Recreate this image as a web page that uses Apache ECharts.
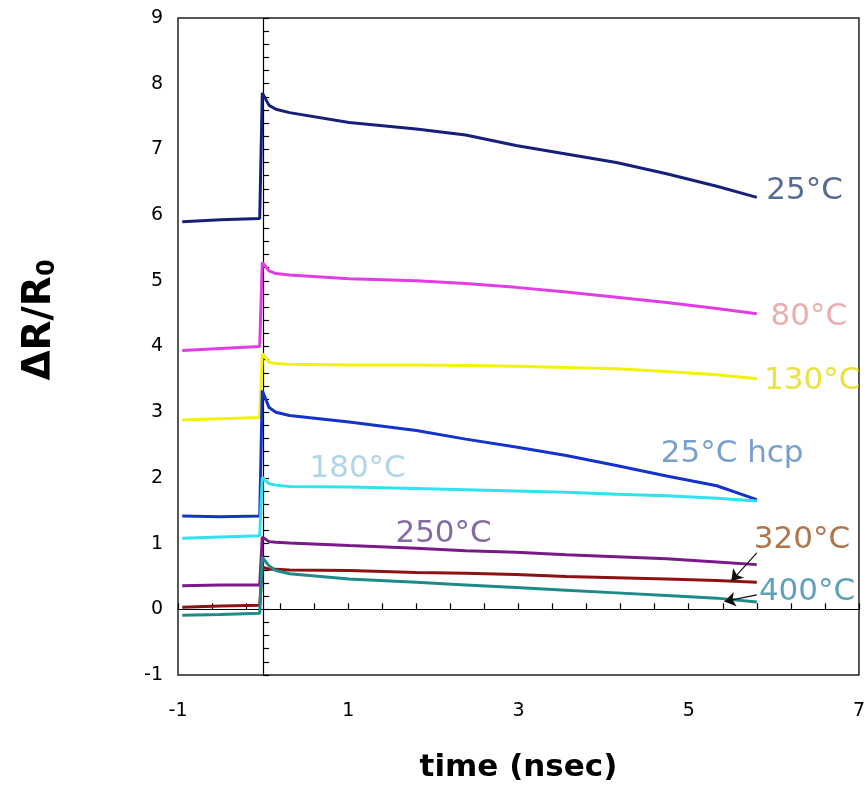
<!DOCTYPE html>
<html>
<head>
<meta charset="utf-8">
<script src="https://cdn.jsdelivr.net/npm/echarts@6/dist/echarts.min.js"></script>
<style>
  html, body { margin: 0; padding: 0; background: #fff; }
  #chart { width: 868px; height: 788px; }
</style>
</head>
<body>
<div id="chart"></div>
<script>
// Time axis (ns) shared by every trace
const time = [-0.95, -0.5, -0.04, -0.01, 0.07, 0.15, 0.31, 1.01, 1.80, 2.38, 2.97, 3.56, 4.15, 4.74, 5.33, 5.80];

// ΔR/R0 traces
const r25   = [5.90, 5.93, 5.95, 7.86, 7.67, 7.61, 7.56, 7.41, 7.31, 7.22, 7.06, 6.93, 6.80, 6.63, 6.44, 6.27];
const r80   = [3.94, 3.97, 4.00, 5.28, 5.15, 5.11, 5.09, 5.03, 5.00, 4.96, 4.90, 4.83, 4.75, 4.67, 4.58, 4.50];
const r130  = [2.88, 2.90, 2.92, 3.89, 3.76, 3.74, 3.73, 3.72, 3.72, 3.71, 3.70, 3.68, 3.66, 3.62, 3.57, 3.51];
const rHcp  = [1.42, 1.41, 1.42, 3.33, 3.07, 3.00, 2.95, 2.85, 2.72, 2.59, 2.47, 2.34, 2.19, 2.03, 1.88, 1.67];
const r180  = [1.08, 1.10, 1.12, 2.01, 1.91, 1.89, 1.87, 1.86, 1.84, 1.82, 1.80, 1.78, 1.75, 1.73, 1.69, 1.65];
const r250  = [0.36, 0.37, 0.37, 1.10, 1.03, 1.02, 1.01, 0.97, 0.93, 0.89, 0.87, 0.83, 0.80, 0.77, 0.72, 0.68];
const r320  = [0.03, 0.05, 0.06, 0.64, 0.61, 0.61, 0.60, 0.59, 0.56, 0.55, 0.53, 0.50, 0.48, 0.46, 0.44, 0.41];
const r400  = [-0.09, -0.08, -0.06, 0.79, 0.66, 0.59, 0.54, 0.46, 0.41, 0.37, 0.33, 0.29, 0.25, 0.21, 0.17, 0.11];

const traceNames = ['25°C', '80°C', '130°C', '25°C hcp', '180°C', '250°C', '320°C', '400°C'];
const traceValues = [r25, r80, r130, rHcp, r180, r250, r320, r400];
const traceColors = ['#16207a', '#e23ce4', '#f2f20c', '#1432cc', '#2fe2ee', '#7a1a88', '#8a1212', '#1f8a8a'];

// Curve labels: position in data units and text
const noteText  = ['25°C', '80°C', '130°C', '25°C hcp', '180°C', '250°C', '320°C', '400°C'];
const noteX     = [6.36, 6.41, 6.45, 5.51, 1.11, 2.12, 6.33, 6.39];
const noteY     = [6.37, 4.45, 3.47, 2.36, 2.14, 1.15, 1.05, 0.26];
const noteColors = ['#2a4676', '#e39a9a', '#e4dc0c', '#5588c6', '#9ccbe0', '#654690', '#9c521a', '#3789a6'];

// Pointer arrows from the two lowest labels to their curves
const arrows = [
  [[5.80, 0.86], [5.50, 0.43]],
  [[5.80, 0.22], [5.42, 0.12]]
];

const FONT = 'DejaVu Sans';

const lineSeries = traceNames.map((name, i) => ({
  name: name,
  type: 'line',
  xAxisIndex: 0,
  yAxisIndex: 0,
  data: time.map((t, k) => [t, traceValues[i][k]]),
  showSymbol: false,
  symbol: 'none',
  lineStyle: { color: traceColors[i], width: 3 },
  z: 3
}));

const noteSeries = {
  type: 'scatter',
  xAxisIndex: 0,
  yAxisIndex: 0,
  symbolSize: 0,
  silent: true,
  z: 5,
  data: noteText.map((txt, i) => ({
    value: [noteX[i], noteY[i]],
    label: {
      show: true,
      position: 'inside',
      formatter: txt,
      color: noteColors[i],
      fontFamily: FONT,
      fontSize: 31
    }
  })),
  markLine: {
    silent: true,
    symbol: ['none', 'arrow'],
    symbolSize: 11,
    label: { show: false },
    lineStyle: { color: '#111', width: 1.2, type: 'solid' },
    data: arrows.map(a => [{ coord: a[0] }, { coord: a[1] }])
  }
};

const chart = echarts.init(document.getElementById('chart'), null, { renderer: 'canvas' });
chart.setOption({
  animation: false,
  backgroundColor: '#fff',
  grid: {
    left: 178, right: 6, top: 18, bottom: 112,
    show: true,
    borderColor: '#222',
    borderWidth: 1.5,
    backgroundColor: 'transparent'
  },
  xAxis: [
    {
      type: 'value',
      min: -1, max: 7, interval: 1,
      position: 'bottom',
      axisLine: { show: false, onZero: false },
      axisTick: { show: false },
      splitLine: { show: false },
      axisLabel: {
        margin: 27,
        color: '#000',
        fontFamily: FONT,
        fontSize: 19,
        formatter: v => (Math.round(v) % 2 !== 0 ? String(Math.round(v)) : '')
      },
      name: 'time (nsec)',
      nameLocation: 'middle',
      nameGap: 77,
      nameTextStyle: { fontFamily: FONT, fontSize: 31, fontWeight: 'bold', color: '#000' }
    },
    {
      // zero line with minor ticks every 0.4 ns, counted from the left edge
      type: 'value',
      min: 0, max: 8, interval: 0.4,
      position: 'bottom',
      axisLine: { show: true, onZero: true, lineStyle: { color: '#000', width: 1.2 } },
      axisTick: { show: true, inside: true, length: 6, lineStyle: { color: '#000', width: 1.2 } },
      axisLabel: { show: false },
      splitLine: { show: false }
    }
  ],
  yAxis: [
    {
      type: 'value',
      min: -1, max: 9, interval: 1,
      position: 'left',
      axisLine: { show: false, onZero: false },
      axisTick: { show: false },
      splitLine: { show: false },
      axisLabel: { margin: 15, color: '#000', fontFamily: FONT, fontSize: 19 }
    },
    {
      // vertical line at t = 0 with ticks every 0.2
      type: 'value',
      min: -1, max: 9, interval: 0.2,
      position: 'left',
      axisLine: { show: true, onZero: true, onZeroAxisIndex: 0, lineStyle: { color: '#000', width: 1.2 } },
      axisTick: { show: true, inside: true, length: 6, lineStyle: { color: '#000', width: 1.2 } },
      axisLabel: { show: false },
      splitLine: { show: false }
    }
  ],
  graphic: [
    {
      type: 'text',
      x: 40, y: 320,
      rotation: Math.PI / 2,
      style: {
        text: '{m|ΔR/R}{s|0}',
        fill: '#000',
        align: 'center',
        verticalAlign: 'middle',
        rich: {
          m: { fontFamily: FONT, fontSize: 39, fontWeight: 'bold', fill: '#000' },
          s: { fontFamily: FONT, fontSize: 24, fontWeight: 'bold', fill: '#000', padding: [16, 0, 0, 0] }
        }
      }
    }
  ],
  series: lineSeries.concat([noteSeries])
});
</script>
</body>
</html>
